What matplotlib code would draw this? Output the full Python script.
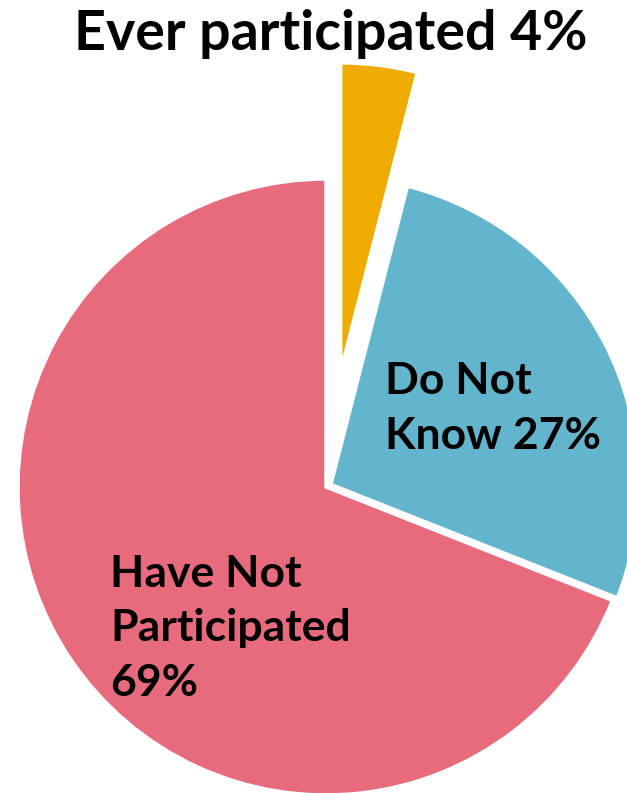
import matplotlib.pyplot as plt

labels = ["Ever participated 4%", "Do Not\nKnow 27%", "Have Not\nParticipated\n69%"]
shares = [4, 27, 69]
colors = ["#F0AB00", "#62B5CC", "#E76B7C"]
explode = [0.38, 0.018, 0.0]

plt.rcParams["font.family"] = ["Lato", "DejaVu Sans"]

fig = plt.figure(figsize=(6.27, 7.93), dpi=100)
ax = fig.add_axes([0, 0, 1, 1])

ax.pie(shares, colors=colors, explode=explode, startangle=90, counterclock=False,
       radius=1.0, wedgeprops=dict(edgecolor="white", linewidth=2.5))

ax.set_xlim(-326 / 308, (627 - 326) / 308)
ax.set_ylim(-(793 - 487) / 308, 487 / 308)
ax.set_aspect("auto")
ax.axis("off")

ax.text(0.016, 1.47, labels[0], ha="center", va="center", fontsize=40, fontweight="bold")
ax.text(0.19, 0.256, labels[1], ha="left", va="center", fontsize=32, fontweight="bold",
        linespacing=1.45)
ax.text(-0.70, -0.459, labels[2], ha="left", va="center", fontsize=32, fontweight="bold",
        linespacing=1.45)

fig.savefig("out.png", dpi=100)
